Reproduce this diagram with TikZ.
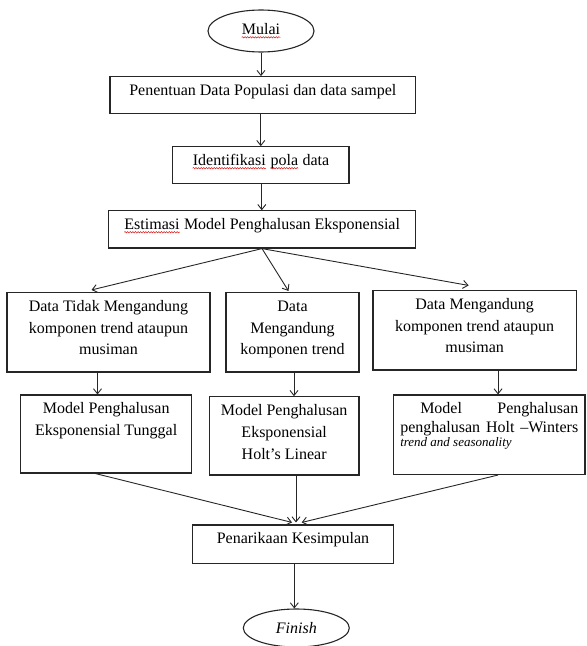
\documentclass[tikz,border=0pt]{standalone}
\usepackage{fontspec}
\setmainfont{Liberation Serif}
\usetikzlibrary{shapes.geometric,arrows.meta,decorations.pathmorphing}
\definecolor{salahred}{rgb}{0.85, 0.1, 0.1}
\definecolor{garis}{rgb}{0.15, 0.15, 0.15}

\newcommand{\atas}{\rule{0pt}{15pt}}
\newcommand{\isi}[3]{\parbox[c][#2][t]{#1}{\centering\vspace*{4pt}\atas#3\par}}
\newcommand{\salah}[1]{\tikz[baseline=(kata.base)]{\node[shape=rectangle, draw=none, inner sep=0pt, minimum width=0pt, minimum height=0pt] (kata) {#1};\draw[salahred, line width=0.5pt, decorate, decoration={snake, amplitude=0.7pt, segment length=2.6pt}] ([yshift=-2.5pt]kata.base west) -- ([yshift=-2.5pt]kata.base east);}}

\tikzset{
	kotak/.style={draw=garis, line width=1.1pt, inner sep=0pt, font=\fontsize{16pt}{21.7pt}\selectfont},
	oval/.style={draw=garis, line width=1.1pt, ellipse, inner sep=0pt, minimum width=106pt, font=\fontsize{16pt}{21.7pt}\selectfont},
	panah/.style={draw=garis, line width=0.9pt, -{Straight Barb[length=5pt,width=8pt]}},
}

\begin{document}
\begin{tikzpicture}[x=1pt, y=1pt]

	% Fix the page size.
	\useasboundingbox (0,0) rectangle (587,646);

	% Draw the main column.
	\node[oval, minimum height=42pt] (mulai) at (261,615) {\salah{Mulai}};
	\node[kotak] (populasi) at (262.8,551) {\isi{305.7pt}{36.7pt}{Penentuan Data Populasi dan data sampel}};
	\node[kotak] (pola) at (260.8,481) {\isi{176.3pt}{36.6pt}{\salah{Identifikasi} \salah{pola} data}};
	\node[kotak] (estimasi) at (262,416.6) {\isi{307.4pt}{37.3pt}{\salah{Estimasi} Model Penghalusan Eksponensial}};

	% Draw the three data cases.
	\node[kotak] (tidak) at (108.5,313.75) {\isi{203pt}{79.5pt}{Data Tidak Mengandung\\komponen trend ataupun\\musiman}};
	\node[kotak] (trend) at (292.5,313.75) {\isi{133pt}{79.5pt}{Data\\Mengandung\\komponen trend}};
	\node[kotak] (musim) at (474.65,315.75) {\isi{203.3pt}{79.5pt}{Data Mengandung\\komponen trend ataupun\\musiman}};

	% Draw the three models.
	\node[kotak] (tunggal) at (106.2,212) {\isi{171pt}{78pt}{Model Penghalusan\\Eksponensial Tunggal}};
	\node[kotak] (holt) at (284.15,210.15) {\isi{149.7pt}{78.3pt}{Model Penghalusan\\Eksponensial\\Holt’s Linear}};
	\node[kotak] (winters) at (489.25,211.25) {\parbox[c][79.5pt][t]{191.5pt}{\centering\vspace*{4pt}\fontsize{16pt}{18.4pt}\selectfont\atas\makebox[178pt][s]{\hspace*{20pt}Model Penghalusan}\\\makebox[178pt][s]{penghalusan Holt –Winters}\par\fontsize{13pt}{14.6pt}\selectfont\itshape\makebox[178pt][l]{trend and seasonality}\par}};

	% Draw the end.
	\node[kotak] (simpulan) at (293,101.85) {\isi{200.6pt}{38.3pt}{Penarikaan Kesimpulan}};
	\node[oval, minimum height=38pt] (selesai) at (296.3,18) {\textit{Finish}};

	% Draw arrows.
	\draw[panah] (mulai.south) -- (mulai.south |- populasi.north);
	\draw[panah] (pola.north |- populasi.south) -- (pola.north);
	\draw[panah] ([xshift=1pt]pola.south) -- ([xshift=1pt]pola.south |- estimasi.north);
	\draw[panah] (estimasi.south) -- ([xshift=-17pt,yshift=2pt]tidak.north);
	\draw[panah] (estimasi.south) -- ([xshift=-4pt,yshift=1pt]trend.north);
	\draw[panah] (estimasi.south) -- ([xshift=-6pt,yshift=4.5pt]musim.north);
	\draw[panah] ([xshift=-11pt]tidak.south) -- ([xshift=-11pt]tidak.south |- tunggal.north);
	\draw[panah] ([xshift=1.5pt]trend.south) -- ([xshift=1.5pt]trend.south |- holt.north);
	\draw[panah] ([xshift=23.4pt]musim.south) -- ([xshift=23.4pt]musim.south |- winters.north);
	\draw[panah] ([xshift=-10.7pt]tunggal.south) -- ([xshift=-1pt,yshift=2pt]simpulan.north);
	\draw[panah] ([xshift=11.85pt]holt.south) -- ([xshift=3pt,yshift=2pt]simpulan.north);
	\draw[panah] ([xshift=8.75pt]winters.south) -- ([xshift=8.7pt,yshift=2pt]simpulan.north);
	\draw[panah] ([xshift=1.3pt]simpulan.south) -- ([xshift=1.3pt]simpulan.south |- selesai.north);

\end{tikzpicture}
\end{document}
